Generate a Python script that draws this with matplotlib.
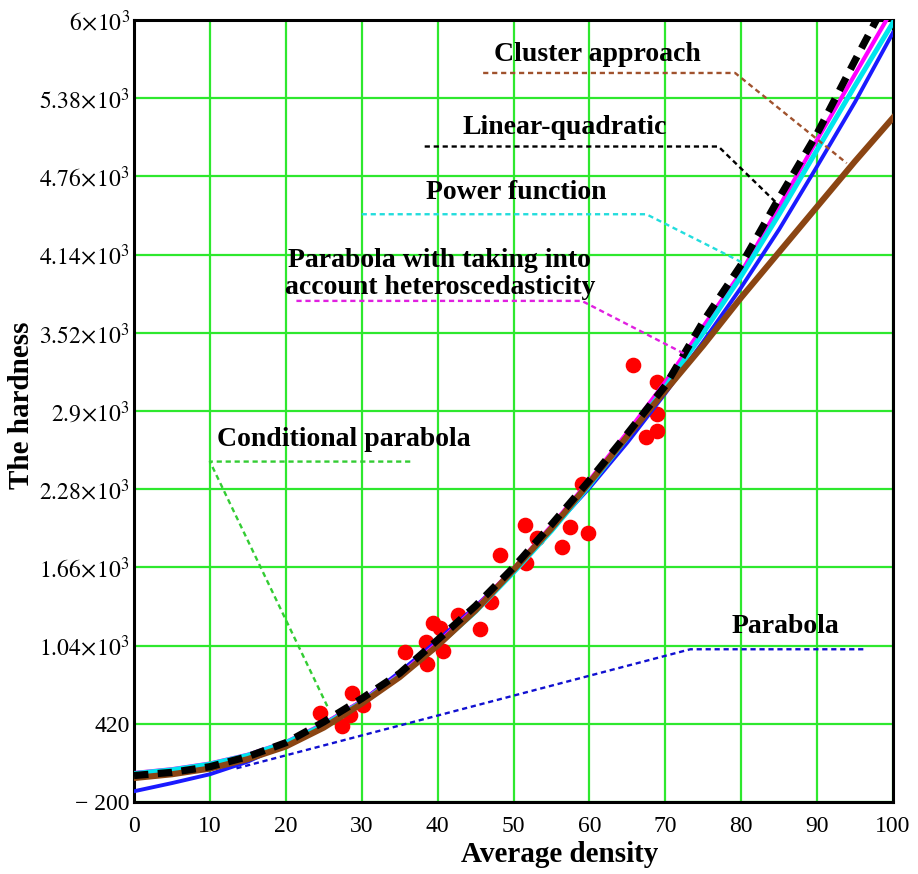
import matplotlib
matplotlib.use("Agg")
import matplotlib.pyplot as plt

plt.rcParams["font.family"] = ["Liberation Serif", "DejaVu Serif"]
plt.rcParams["mathtext.fontset"] = "stix"

# experimental points (average density, hardness)
PT_X = [24.5, 27.4, 28.5, 28.7, 30.2, 35.7, 38.5, 38.6, 39.4, 40.3, 40.7,
        42.7, 45.6, 47.0, 48.2, 51.5, 51.7, 53.1, 56.4, 57.4, 59.0, 59.8,
        65.8, 67.4, 68.9, 68.9, 68.9]
PT_Y = [503, 403, 490, 662, 569, 990, 1065, 898, 1217, 1177, 1000,
        1283, 1175, 1385, 1756, 1997, 1693, 1890, 1818, 1983, 2325, 1933,
        3265, 2692, 3133, 2873, 2744]

# fitted curves
CURVE_X = [0, 5, 10, 15, 20, 25, 30, 35, 40, 45, 50, 55, 60, 65, 70, 75,
           80, 85, 90, 95, 100]
LIN_QUAD = [10, 35, 80, 160, 270, 435, 620, 820, 1085, 1355, 1660, 2000,
            2350, 2720, 3100, 3610, 4060, 4590, 5100, 5680, 6250]
HETERO = [30, 60, 105, 175, 275, 420, 600, 810, 1060, 1340, 1650, 1990,
          2350, 2730, 3130, 3570, 4000, 4520, 5050, 5570, 6090]
POWER = [25, 55, 100, 170, 270, 410, 590, 800, 1040, 1310, 1620, 1950,
         2310, 2690, 3090, 3520, 3970, 4460, 4970, 5480, 5980]
PARABOLA = [-115, -50, 20, 120, 260, 420, 600, 830, 1080, 1350, 1640, 1960,
            2290, 2650, 3040, 3450, 3880, 4340, 4840, 5350, 5900]
CLUSTER = [-10, 20, 65, 140, 240, 390, 580, 790, 1040, 1320, 1640, 1970,
           2330, 2700, 3060, 3420, 3800, 4160, 4520, 4880, 5225]

Y_TICKS = [-200, 420, 1040, 1660, 2280, 2900, 3520, 4140, 4760, 5380, 6000]
Y_TICK_LABELS = ["\u2212 200", "420", r"$1.04\!\times\!10^{3}$",
                 r"$1.66\!\times\!10^{3}$", r"$2.28\!\times\!10^{3}$",
                 r"$2.9\!\times\!10^{3}$", r"$3.52\!\times\!10^{3}$",
                 r"$4.14\!\times\!10^{3}$", r"$4.76\!\times\!10^{3}$",
                 r"$5.38\!\times\!10^{3}$", r"$6\!\times\!10^{3}$"]
X_TICKS = [0, 10, 20, 30, 40, 50, 60, 70, 80, 90, 100]

# label text and leader lines: (text, text pos, leader polyline, colour)
LABELS = [
    ("Cluster approach", (61.1, 5724), [(46.0, 79.2, 93.9), (5580, 5580, 4865)], "#a0522d"),
    ("Linear-quadratic", (56.8, 5145), [(38.3, 77.0, 84.7), (4997, 4997, 4547)], "black"),
    ("Power function", (50.3, 4629), [(30.0, 67.5, 80.3), (4460, 4460, 4072)], "#22dddd"),
    ("Parabola with taking into\naccount heteroscedasticity", (40.3, 3985),
     [(21.4, 59.0, 72.8), (3773, 3773, 3345)], "#e020e0"),
    ("Conditional parabola", (27.6, 2671), [(36.4, 10.0, 25.6), (2499, 2499, 543)], "#33cc33"),
    ("Parabola", (85.8, 1190), [(13.5, 73.3, 96.5), (67, 1011, 1011)], "#1010d0"),
]

fig = plt.figure(figsize=(9.18, 8.74), dpi=100)
ax = fig.add_axes([134 / 918, 1 - 802 / 874, 759 / 918, 782 / 874])

ax.set_xlim(0, 100)
ax.set_ylim(-200, 6000)
ax.set_xticks(X_TICKS)
ax.set_yticks(Y_TICKS)
ax.set_yticklabels(Y_TICK_LABELS)
ax.tick_params(length=0, labelsize=17)
ax.tick_params(axis="x", pad=10)
ax.tick_params(axis="y", pad=3)
ax.grid(color="#2ee82e", linewidth=1.6)
ax.set_axisbelow(True)
for sp in ax.spines.values():
    sp.set_linewidth(2.2)

ax.scatter(PT_X, PT_Y, s=105, color="#ff0000", zorder=2)

ax.plot(CURVE_X, PARABOLA, color="#1a1aff", lw=2.8, zorder=3)
ax.plot(CURVE_X, HETERO, color="#ff00ff", lw=3.0, zorder=3)
ax.plot(CURVE_X, POWER, color="#00e5ee", lw=3.6, zorder=4)
ax.plot(CURVE_X, CLUSTER, color="#8b4513", lw=4.4, zorder=5)
ax.plot(CURVE_X, LIN_QUAD, color="black", lw=5.2, dashes=(2.0, 1.3), zorder=6)

for text, (tx, ty), (lx, ly), col in LABELS:
    ax.text(tx, ty, text, ha="center", va="center", fontsize=20,
            fontweight="bold", linespacing=1.12, zorder=7)
    ax.plot(lx, ly, color=col, lw=1.7, dashes=(2.2, 1.6), zorder=7)

fig.text(560 / 918, 1 - 855 / 874, "Average density", ha="center", va="center",
         fontsize=21, fontweight="bold")
fig.text(22 / 918, 1 - 405 / 874, "The hardness", ha="center", va="center",
         rotation=90, fontsize=21, fontweight="bold")

fig.savefig("out.png", dpi=100)
